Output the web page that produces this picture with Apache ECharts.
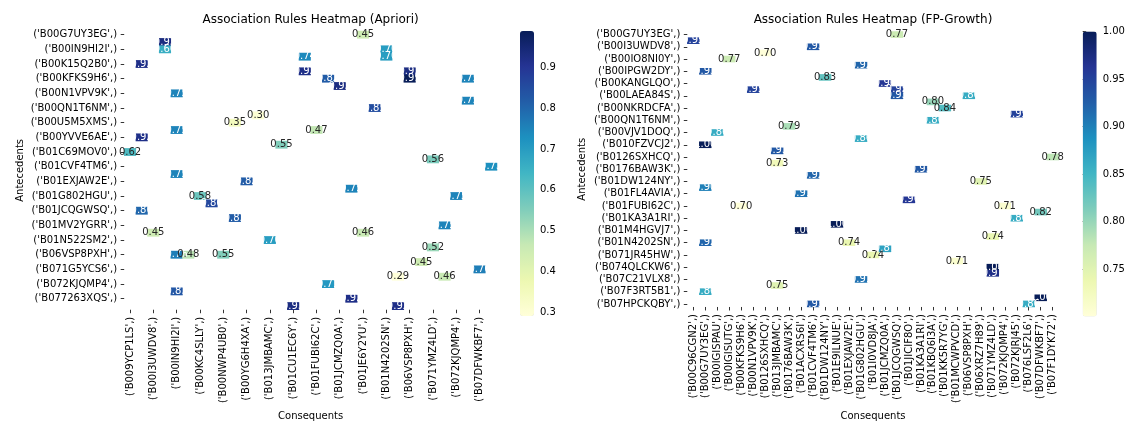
<!DOCTYPE html>
<html><head><meta charset="utf-8">
<script src="https://cdn.jsdelivr.net/npm/echarts@6/dist/echarts.min.js"></script>
<style>html,body{margin:0;padding:0;background:#fff}#c{width:1134px;height:426px}</style>
</head><body><div id="c"></div>
<script>
// ---------- Apriori heatmap ----------
// Only every second category is labelled in the reference; the unlabelled names are placeholders.
const aprioriConsequents = [
"('B009YCP1LS',)","('B00G7UY3EG',)","('B00I3UWDV8',)","('B00IGISPAU',)","('B00IN9HI2I',)","('B00K15Q2B0',)",
"('B00KC4SLLY',)","('B00N1VPV9K',)","('B00NWP4UB0',)","('B00QN1T6NM',)","('B00YG6H4XA',)","('B0126SXHCQ',)",
"('B013JMBAMC',)","('B01C69MOV0',)","('B01CU1EC6Y',)","('B01EXJAW2E',)","('B01FUBI62C',)","('B01G802HGU',)",
"('B01JCMZQ0A',)","('B01JCQGWSQ',)","('B01JE6Y2YU',)","('B01MV2YGRR',)","('B01N4202SN',)","('B01N522SM2',)",
"('B06VSP8PXH',)","('B071G5YCS6',)","('B071YMZ4LD',)","('B072KJJ1V3',)","('B072KJQMP4',)","('B077263XQS',)",
"('B07DFWKBF7',)","('B07F1DYK72',)"];
const aprioriAntecedents = [
"('B00G7UY3EG',)","('B00I3UWDV8',)","('B00IN9HI2I',)","('B00IO8NI0Y',)","('B00K15Q2B0',)","('B00KC4SLLY',)",
"('B00KFKS9H6',)","('B00LAEA84S',)","('B00N1VPV9K',)","('B00NKRDCFA',)","('B00QN1T6NM',)","('B00TJ2YXFA',)",
"('B00U5M5XMS',)","('B00VJV1DOQ',)","('B00YVVE6AE',)","('B0126SXHCQ',)","('B01C69MOV0',)","('B01CU1EC6Y',)",
"('B01CVF4TM6',)","('B01DW124NY',)","('B01EXJAW2E',)","('B01FUBI62C',)","('B01G802HGU',)","('B01JCMZQ0A',)",
"('B01JCQGWSQ',)","('B01KA3A1RI',)","('B01MV2YGRR',)","('B01N4202SN',)","('B01N522SM2',)","('B01N9SSS4X',)",
"('B06VSP8PXH',)","('B06XRZ7H89',)","('B071G5YCS6',)","('B071YMZ4LD',)","('B072KJQMP4',)","('B076LSF2L6',)",
"('B077263XQS',)","('B07DFWKBF7',)"];
// [consequent index, antecedent index, confidence]
const aprioriCells = [
[3,1,0.93],[3,2,0.66],[1,4,0.92],[4,8,0.75],[11,11,0.30],[9,12,0.35],[4,13,0.75],[1,14,0.92],
[0,16,0.62],[4,19,0.75],[10,20,0.82],[6,22,0.58],[7,23,0.86],[1,24,0.80],[9,25,0.82],[2,27,0.45],
[12,28,0.70],[4,30,0.76],[5,30,0.48],[8,30,0.55],[4,35,0.83],[20,0,0.45],[15,3,0.74],[22,2,0.70],
[22,3,0.70],[15,5,0.92],[17,6,0.82],[18,7,0.93],[24,5,0.93],[24,6,0.99],[29,6,0.75],[29,9,0.75],
[21,10,0.85],[16,13,0.47],[13,15,0.55],[26,17,0.56],[31,18,0.73],[19,21,0.75],[28,22,0.75],[27,26,0.75],
[20,27,0.46],[26,29,0.52],[25,31,0.45],[23,33,0.29],[27,33,0.46],[30,32,0.76],[17,34,0.71],[19,36,0.92],
[14,37,0.93],[23,37,0.92]];
const aprioriTicks = [0.3,0.4,0.5,0.6,0.7,0.8,0.9];
const aprioriRange = [0.29, 0.99];

// ---------- FP-Growth heatmap ----------
const fpConsequents = [
"('B00C96CGN2',)","('B00G7UY3EG',)","('B00IGISPAU',)","('B00IGISUTG',)","('B00KFKS9H6',)","('B00N1VPV9K',)",
"('B0126SXHCQ',)","('B013JMBAMC',)","('B0176BAW3K',)","('B01ACXRS6I',)","('B01CVF4TM6',)","('B01DW124NY',)",
"('B01E9ILNUE',)","('B01EXJAW2E',)","('B01G802HGU',)","('B01I0VD8JA',)","('B01JCMZQ0A',)","('B01JCQGWSQ',)",
"('B01JICIF8O',)","('B01KA3A1RI',)","('B01KBQ6I3A',)","('B01KK5R7YG',)","('B01MCWPVCD',)","('B06VSP8PXH',)",
"('B06XRZ7H89',)","('B071YMZ4LD',)","('B072KJQMP4',)","('B072KJRJ45',)","('B076LSF2L6',)","('B07DFWKBF7',)",
"('B07F1DYK72',)"];
const fpAntecedents = [
"('B00G7UY3EG',)","('B00HQ3S4PU',)","('B00I3UWDV8',)","('B00IGISPAU',)","('B00IO8NI0Y',)","('B00IP1LTKS',)",
"('B00IPGW2DY',)","('B00K15Q2B0',)","('B00KANGLQO',)","('B00KFKS9H6',)","('B00LAEA84S',)","('B00N1VPV9K',)",
"('B00NKRDCFA',)","('B00NWP4UB0',)","('B00QN1T6NM',)","('B00U5M5XMS',)","('B00VJV1DOQ',)","('B00YVVE6AE',)",
"('B010FZVCJ2',)","('B0114EYV3U',)","('B0126SXHCQ',)","('B013JMBAMC',)","('B0176BAW3K',)","('B01CVF4TM6',)",
"('B01DW124NY',)","('B01EXJAW2E',)","('B01FL4AVIA',)","('B01FQ2D4GS',)","('B01FUBI62C',)","('B01JCQGWSQ',)",
"('B01KA3A1RI',)","('B01KBQ6I3A',)","('B01M4HGVJ7',)","('B01MCWPVCD',)","('B01N4202SN',)","('B06VSP8PXH',)",
"('B071JR45HW',)","('B072KJQMP4',)","('B074QLCKW6',)","('B076LSF2L6',)","('B07C21VLX8',)","('B07DFWKBF7',)",
"('B07F3RT5B1',)","('B07G5SQM2K',)","('B07HPCKQBY',)"];
const fpCells = [
[0,1,0.95],[10,2,0.93],[6,3,0.70],[3,4,0.77],[1,6,0.93],[11,7,0.83],[5,9,0.95],[8,15,0.79],
[2,16,0.86],[1,18,1.00],[7,19,0.93],[7,21,0.73],[10,23,0.92],[1,25,0.90],[9,26,0.91],[4,28,0.70],
[12,31,1.00],[9,32,1.00],[1,34,0.92],[7,41,0.75],[1,42,0.86],[10,44,0.93],[17,0,0.77],[14,5,0.92],
[16,8,0.96],[17,9,0.95],[17,10,0.93],[20,11,0.80],[21,12,0.84],[23,10,0.86],[27,13,0.95],[20,14,0.86],
[14,17,0.86],[30,20,0.78],[19,22,0.93],[24,24,0.75],[18,27,0.96],[26,28,0.71],[27,30,0.86],[29,29,0.82],
[13,34,0.74],[25,33,0.74],[15,36,0.74],[16,35,0.87],[22,37,0.71],[25,38,1.00],[25,39,0.97],[14,40,0.91],
[29,43,1.00],[28,44,0.86]];
const fpTicks = [0.75,0.80,0.85,0.90,0.95,1.00];
const fpRange = [0.70, 1.00];

// ---------- styling ----------
const YLGNBU = ['#ffffd9','#edf8b1','#c7e9b4','#7fcdbb','#41b6c4','#1d91c0','#225ea8','#253494','#081d58'];
const FONT = 'DejaVu Sans';
function hex(h){return [1,3,5].map(i=>parseInt(h.substr(i,2),16)/255);}
function cmap(t){
  t=Math.max(0,Math.min(1,t)); const p=t*(YLGNBU.length-1); const i=Math.min(Math.floor(p),YLGNBU.length-2); const f=p-i;
  const a=hex(YLGNBU[i]), b=hex(YLGNBU[i+1]); return a.map((v,k)=>v+(b[k]-v)*f);
}
function lum(rgb){const l=rgb.map(c=>c<=0.03928?c/12.92:Math.pow((c+0.055)/1.055,2.4));return 0.2126*l[0]+0.7152*l[1]+0.0722*l[2];}
function items(cells, range){
  return cells.map(c=>({value:c,label:{color: lum(cmap((c[2]-range[0])/(range[1]-range[0])))>0.408?'#262626':'#ffffff'}}));
}

const G = [
  {left:124.2, top:31, width:372.8, height:285},
  {left:687.3, top:31.5, width:371.4, height:285},
  {left:520, top:31, width:14, height:285},
  {left:1082.7, top:31.5, width:14, height:285}
];
const lbl = {fontFamily:FONT, fontSize:10, color:'#000'};
function catX(idx, data, interval, gap){
  return {type:'category', gridIndex:idx, data:data, position:'bottom',
    name:'Consequents', nameLocation:'middle', nameGap:gap, nameTextStyle:{fontFamily:FONT,fontSize:10,color:'#000'},
    axisLine:{show:false}, splitLine:{show:false},
    axisTick:{show:true, alignWithLabel:true, interval:interval, length:3.5, lineStyle:{color:'#000',width:0.8}},
    axisLabel:Object.assign({interval:interval, rotate:90, margin:7}, lbl)};
}
function catY(idx, data, interval, gap){
  return {type:'category', gridIndex:idx, data:data, inverse:true,
    name:'Antecedents', nameLocation:'middle', nameGap:gap, nameRotate:90, nameTextStyle:{fontFamily:FONT,fontSize:10,color:'#000'},
    axisLine:{show:false}, splitLine:{show:false},
    axisTick:{show:true, alignWithLabel:true, interval:interval, length:3.5, lineStyle:{color:'#000',width:0.8}},
    axisLabel:Object.assign({interval:interval, margin:7}, lbl)};
}
function barY(idx, range, ticks, dec){
  return {type:'value', gridIndex:idx, position:'right', min:range[0], max:range[1],
    axisLine:{show:false}, splitLine:{show:false},
    axisTick:{show:true, length:3.5, customValues:ticks, lineStyle:{color:'#000',width:0.8}},
    axisLabel:Object.assign({customValues:ticks, margin:6, formatter:v=>Number(v).toFixed(dec)}, lbl)};
}
const cellLabel = {show:true, fontFamily:FONT, fontSize:10, formatter:p=>p.value[2].toFixed(2)};

const chart = echarts.init(document.getElementById('c'), null, {renderer:'canvas'});
chart.setOption({
  animation:false,
  backgroundColor:'#fff',
  title:[
    {text:'Association Rules Heatmap (Apriori)', left:G[0].left+G[0].width/2, top:14, textAlign:'center', padding:0,
     textStyle:{fontFamily:FONT,fontSize:12,fontWeight:'normal',color:'#000'}},
    {text:'Association Rules Heatmap (FP-Growth)', left:G[1].left+G[1].width/2, top:14, textAlign:'center', padding:0,
     textStyle:{fontFamily:FONT,fontSize:12,fontWeight:'normal',color:'#000'}}
  ],
  grid:G,
  xAxis:[catX(0, aprioriConsequents, 1, 101), catX(1, fpConsequents, 0, 102),
         {type:'value', gridIndex:2, show:false}, {type:'value', gridIndex:3, show:false}],
  yAxis:[catY(0, aprioriAntecedents, 1, 99), catY(1, fpAntecedents, 1, 100),
         barY(2, aprioriRange, aprioriTicks, 1), barY(3, fpRange, fpTicks, 2)],
  visualMap:[
    {type:'continuous', seriesIndex:0, min:aprioriRange[0], max:aprioriRange[1], calculable:false, hoverLink:false,
     left:G[2].left, top:G[2].top, itemWidth:14, itemHeight:285, padding:0, text:null, inRange:{color:YLGNBU}},
    {type:'continuous', seriesIndex:1, min:fpRange[0], max:fpRange[1], calculable:false, hoverLink:false,
     left:G[3].left, top:G[3].top, itemWidth:14, itemHeight:285, padding:0, text:null, inRange:{color:YLGNBU}}
  ],
  series:[
    {type:'heatmap', xAxisIndex:0, yAxisIndex:0, data:items(aprioriCells, aprioriRange), label:cellLabel, emphasis:{disabled:true}},
    {type:'heatmap', xAxisIndex:1, yAxisIndex:1, data:items(fpCells, fpRange), label:cellLabel, emphasis:{disabled:true}}
  ]
});
</script></body></html>
